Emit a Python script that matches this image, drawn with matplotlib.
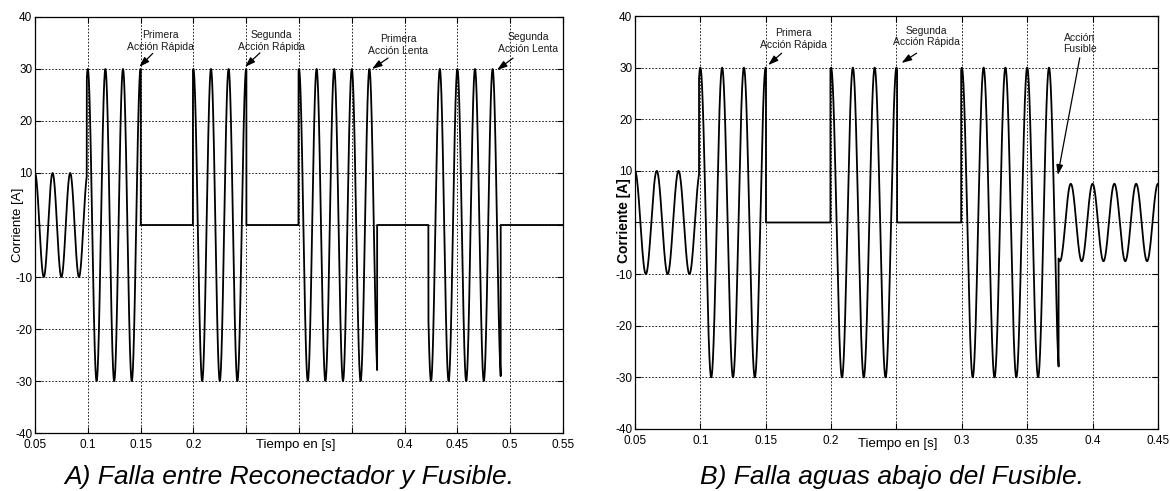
import numpy as np
import matplotlib
matplotlib.use("Agg")
import matplotlib.pyplot as plt

# ----------------------------
# Data
# ----------------------------
FREQ = 60.0  # Hz, system frequency

# Falla entre Reconectador y Fusible: switching instants and current amplitude per interval
a_edges = [0.05, 0.099, 0.1502, 0.1995, 0.2502, 0.2995, 0.374, 0.4225, 0.491, 0.55]
a_amps = [10, 30, 0, 30, 0, 30, 0, 30, 0]

# Falla aguas abajo del Fusible
b_edges = [0.05, 0.099, 0.1502, 0.1995, 0.2505, 0.2995, 0.374, 0.45]
b_amps = [10, 30, 0, 30, 0, 30, 7.5]

a_xticks = [0.05, 0.1, 0.15, 0.2, 0.25, 0.3, 0.35, 0.4, 0.45, 0.5, 0.55]
a_xticklabels = ["0.05", "0.1", "0.15", "0.2", "", "", "", "0.4", "0.45", "0.5", "0.55"]
b_xticks = [0.05, 0.1, 0.15, 0.2, 0.25, 0.3, 0.35, 0.4, 0.45]
b_xticklabels = ["0.05", "0.1", "0.15", "0.2", "", "0.3", "0.35", "0.4", "0.45"]
yticks = [-40, -30, -20, -10, 0, 10, 20, 30, 40]
yticklabels = ["-40", "-30", "-20", "-10", "", "10", "20", "30", "40"]

a_notes = ["Primera\nAcción Rápida", "Segunda\nAcción Rápida",
           "Primera\nAcción Lenta", "Segunda\nAcción Lenta"]
b_notes = ["Primera\nAcción Rápida", "Segunda\nAcción Rápida", "Acción\nFusible"]

# annotation placement: text centre, arrow tail, arrow tip
a_note_pos = [((0.1684, 35.4), (0.1615, 33.0), (0.1488, 30.4)),
              ((0.274, 35.4), (0.263, 33.1), (0.2489, 30.4)),
              ((0.3938, 34.6), (0.3843, 32.1), (0.3691, 30.0)),
              ((0.5169, 35.0), (0.5027, 32.1), (0.4875, 29.8))]
b_note_pos = [((0.171, 35.6), (0.1622, 32.8), (0.1519, 30.5)),
              ((0.273, 36.0), (0.2654, 32.8), (0.2539, 30.9)),
              ((0.390, 34.7), (0.3902, 31.9), (0.3734, 9.2))]

FONT = "Liberation Sans"
plt.rcParams["font.family"] = [FONT, "DejaVu Sans"]
plt.rcParams["axes.unicode_minus"] = False


def build_wave(edges, amps):
    ts, ys = [], []
    for t0, t1, amp in zip(edges[:-1], edges[1:], amps):
        t = np.linspace(t0, t1, max(int((t1 - t0) / 1e-4), 2))
        ts.append(t)
        ys.append(amp * np.cos(2 * np.pi * FREQ * t))
    return np.concatenate(ts), np.concatenate(ys)


def style_axes(ax, xlim, xticks, xticklabels):
    ax.set_xlim(*xlim)
    ax.set_ylim(-40, 40)
    ax.set_xticks(xticks)
    ax.set_xticklabels(xticklabels)
    ax.set_yticks(yticks)
    ax.set_yticklabels(yticklabels)
    ax.tick_params(direction="in", length=4, width=0.8, top=True, right=True,
                   labelsize=8.5, pad=2, colors="black")
    ax.tick_params(axis="x", pad=4)
    ax.grid(True, color="black", linestyle=(0, (2, 2)), linewidth=0.6)
    for s in ax.spines.values():
        s.set_linewidth(0.9)
        s.set_color("black")


def add_notes(ax, notes, positions):
    for txt, (tpos, tail, tip) in zip(notes, positions):
        ax.text(tpos[0], tpos[1], txt, ha="center", va="center", fontsize=7.5,
                color="#1a1a1a", linespacing=1.2)
        ax.annotate("", xy=tip, xytext=tail,
                    arrowprops=dict(arrowstyle="-|>,head_length=0.6,head_width=0.2",
                                    color="black", lw=0.9, shrinkA=0, shrinkB=0))


fig = plt.figure(figsize=(11.7, 4.91), dpi=100)
ax_a = fig.add_axes([0.0299, 0.1181, 0.4513, 0.8473])
ax_b = fig.add_axes([0.5427, 0.1263, 0.4470, 0.8411])

# ---- Plot A ----
ta, ya = build_wave(a_edges, a_amps)
ax_a.plot(ta, ya, color="black", lw=1.3)
style_axes(ax_a, (0.05, 0.55), a_xticks, a_xticklabels)
ax_a.set_xlabel("Tiempo en [s]", fontsize=9.5)
ax_a.xaxis.set_label_coords(0.494, -0.028)
ax_a.xaxis.label.set_va("center")
ax_a.set_ylabel("Corriente [A]", fontsize=9.5)
ax_a.yaxis.set_label_coords(-0.032, 0.5)
ax_a.yaxis.label.set_va("center")
add_notes(ax_a, a_notes, a_note_pos)

# ---- Plot B ----
tb, yb = build_wave(b_edges, b_amps)
ax_b.plot(tb, yb, color="black", lw=1.3)
style_axes(ax_b, (0.05, 0.45), b_xticks, b_xticklabels)
ax_b.set_xlabel("Tiempo en [s]", fontsize=9.5)
ax_b.xaxis.set_label_coords(0.502, -0.036)
ax_b.xaxis.label.set_va("center")
ax_b.set_ylabel("Corriente [A]", fontsize=10, fontweight="bold")
ax_b.yaxis.set_label_coords(-0.021, 0.505)
ax_b.yaxis.label.set_va("center")
add_notes(ax_b, b_notes, b_note_pos)

# ---- Captions ----
fig.text(289 / 1170, 1 - 477 / 491, "A) Falla entre Reconectador y Fusible.",
         ha="center", va="center", fontsize=19, style="italic")
fig.text(892 / 1170, 1 - 477 / 491, "B) Falla aguas abajo del Fusible.",
         ha="center", va="center", fontsize=19, style="italic")

fig.savefig("out.png", dpi=100, facecolor="white")
